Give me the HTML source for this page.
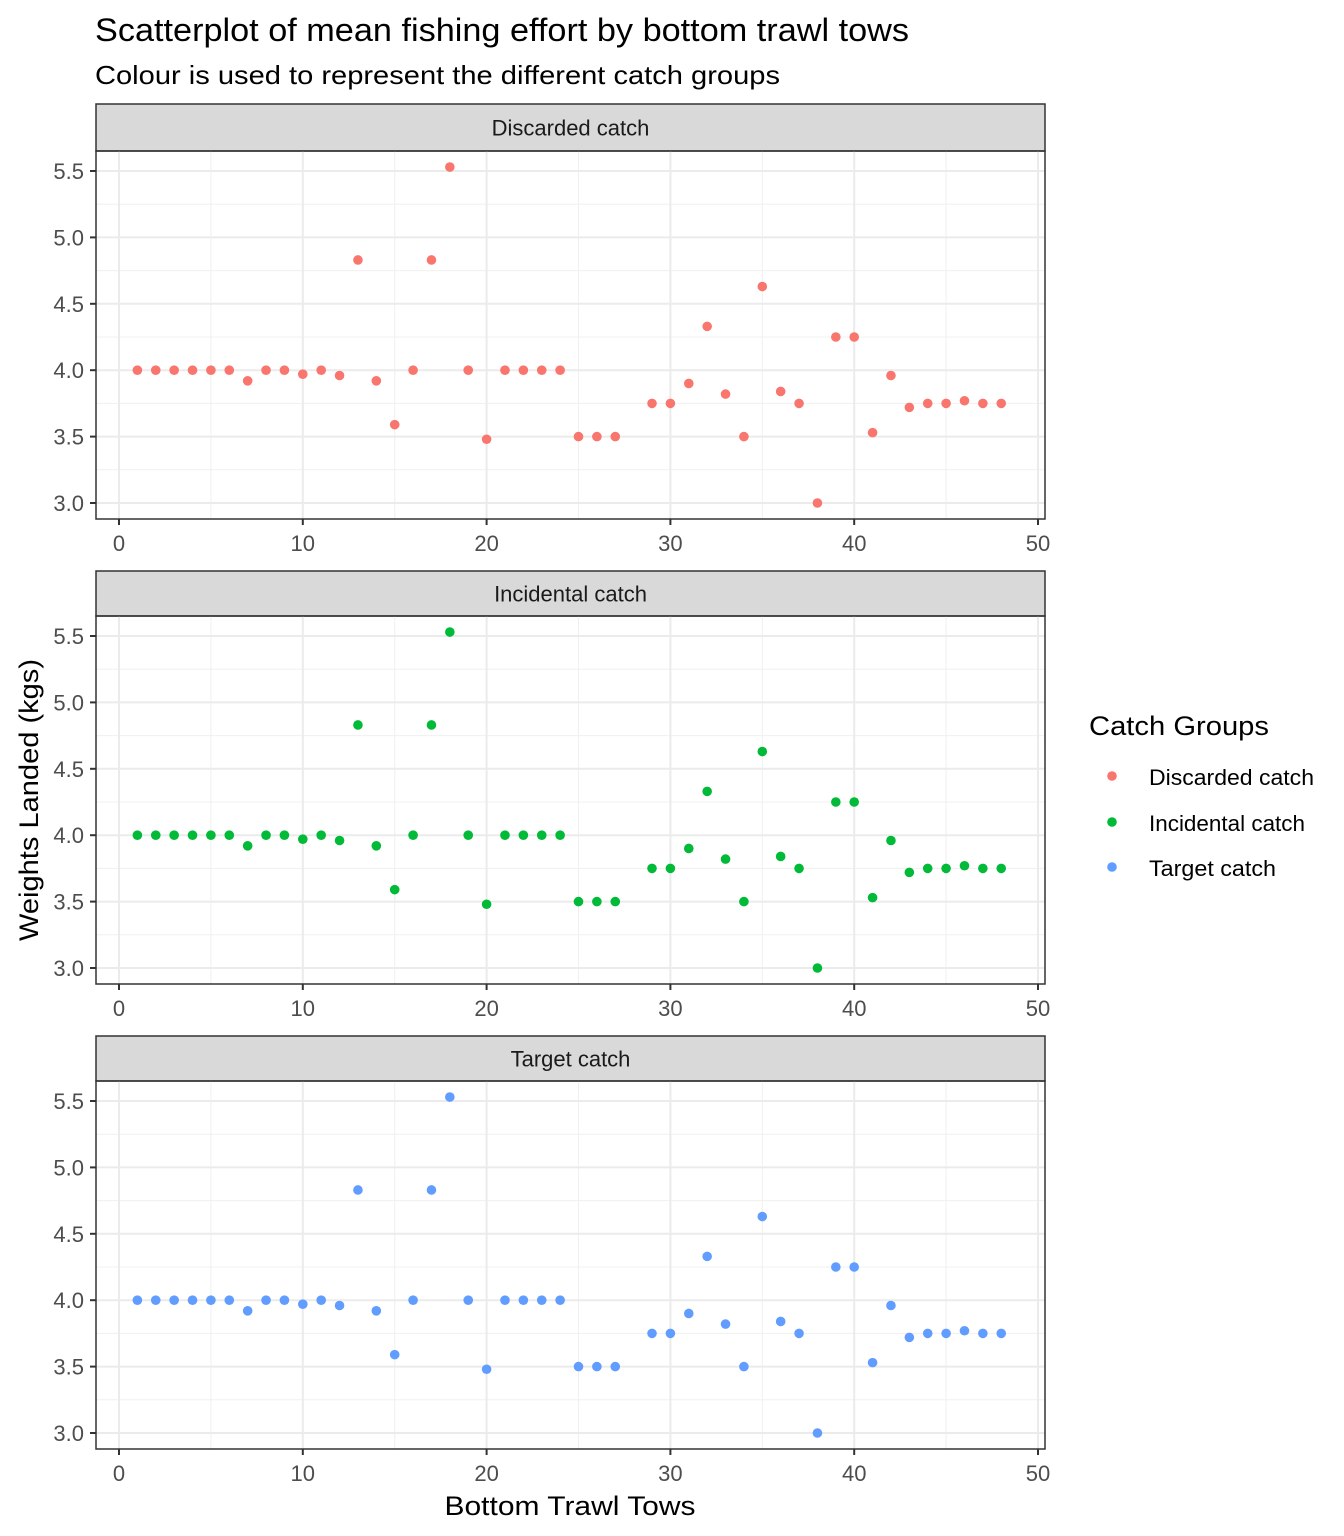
<!DOCTYPE html>
<html><head><meta charset="utf-8">
<style>
body{margin:0;background:#fff;}
svg{display:block;font-family:"Liberation Sans",Arial,sans-serif;}
</style></head>
<body>
<svg id="chart" width="1344" height="1536" viewBox="0 0 1344 1536" xmlns="http://www.w3.org/2000/svg">
<text x="95" y="41" font-size="32" fill="#000" textLength="814" lengthAdjust="spacingAndGlyphs">Scatterplot of mean fishing effort by bottom trawl tows</text>
<text x="95" y="84" font-size="26" fill="#000" textLength="685" lengthAdjust="spacingAndGlyphs">Colour is used to represent the different catch groups</text>
<text transform="translate(38,800) rotate(-90)" text-anchor="middle" font-size="27" fill="#000" textLength="282" lengthAdjust="spacingAndGlyphs">Weights Landed (kgs)</text>
<text x="570" y="1515" text-anchor="middle" font-size="27" fill="#000" textLength="251" lengthAdjust="spacingAndGlyphs">Bottom Trawl Tows</text>
<g id="panels"></g>
<g>
<text x="1089" y="735" font-size="27" fill="#000" textLength="180" lengthAdjust="spacingAndGlyphs">Catch Groups</text>
<g><circle cx="1112" cy="776" r="4.8" fill="#F8766D"/><text x="1149" y="785" font-size="22" textLength="165" lengthAdjust="spacingAndGlyphs">Discarded catch</text></g>
<g><circle cx="1112" cy="822" r="4.8" fill="#00BA38"/><text x="1149" y="831" font-size="22" textLength="156" lengthAdjust="spacingAndGlyphs">Incidental catch</text></g>
<g><circle cx="1112" cy="867" r="4.8" fill="#619CFF"/><text x="1149" y="876" font-size="22" textLength="127" lengthAdjust="spacingAndGlyphs">Target catch</text></g>
</g>
</svg>
<script>
const panelNames = ["Discarded catch","Incidental catch","Target catch"];
const panelColors = ["#F8766D","#00BA38","#619CFF"];
const tows = [1,2,3,4,5,6,7,8,9,10,11,12,13,14,15,16,17,18,19,20,21,22,23,24,25,26,27,29,30,31,32,33,34,35,36,37,38,39,40,41,42,43,44,45,46,47,48];
const weights = [4,4,4,4,4,4,3.92,4,4,3.97,4,3.96,4.83,3.92,3.59,4,4.83,5.53,4,3.48,4,4,4,4,3.5,3.5,3.5,3.75,3.75,3.9,4.33,3.82,3.5,4.63,3.84,3.75,3.0,4.25,4.25,3.53,3.96,3.72,3.75,3.75,3.77,3.75,3.75];
const xTicks = [0,10,20,30,40,50];
const yTicks = [3.0,3.5,4.0,4.5,5.0,5.5];

const NS="http://www.w3.org/2000/svg";
const root=document.getElementById('panels');
function mk(tag,attrs,parent){const e=document.createElementNS(NS,tag);for(const k in attrs)e.setAttribute(k,attrs[k]);parent.appendChild(e);return e;}
const L=96,R=1045;
const stripTops=[104,571,1036];
const plotTops=[151,616,1081];
const xs=v=>119+(v)*18.38;
panelNames.forEach((name,pi)=>{
  const st=stripTops[pi], top=plotTops[pi], bot=top+368;
  const y55=top+20, y30=top+352;
  const ys=v=>y30-(v-3.0)*(y30-y55)/2.5;
  const g=mk('g',{},root);
  
  
  const s=mk('rect',{x:L,y:st,width:R-L,height:top-st,fill:'#D9D9D9',stroke:'#333','stroke-width':1.5},g);
  
  
  const stt=mk('text',{x:(L+R)/2,y:(st+top)/2+8,'text-anchor':'middle','font-size':22,fill:'#1a1a1a'},g);
  stt.textContent=name;
  
  
  for(let v=5;v<=45;v+=10) mk('line',{x1:xs(v),x2:xs(v),y1:top,y2:bot,stroke:'#F0F0F0','stroke-width':1},g);
  for(let v=2.75;v<=5.75;v+=0.5) if(ys(v)>top&&ys(v)<bot) mk('line',{x1:L,x2:R,y1:ys(v),y2:ys(v),stroke:'#F0F0F0','stroke-width':1},g);
  xTicks.forEach(t=>{
    mk('line',{x1:xs(t),x2:xs(t),y1:top,y2:bot,stroke:'#EBEBEB','stroke-width':2},g);
    mk('line',{x1:xs(t),x2:xs(t),y1:bot,y2:bot+6,stroke:'#333','stroke-width':2},g);
    const tx=mk('text',{x:xs(t),y:bot+32,'text-anchor':'middle','font-size':22,fill:'#4D4D4D'},g);
    tx.textContent=t;
    
    
  });
  yTicks.forEach(t=>{
    mk('line',{x1:L,x2:R,y1:ys(t),y2:ys(t),stroke:'#EBEBEB','stroke-width':2},g);
    mk('line',{x1:L-6,x2:L,y1:ys(t),y2:ys(t),stroke:'#333','stroke-width':2},g);
    const ty=mk('text',{x:L-12,y:ys(t)+8,'text-anchor':'end','font-size':22,fill:'#4D4D4D'},g);
    ty.textContent=t.toFixed(1);
    
    
  });
  mk('rect',{x:L,y:top,width:R-L,height:bot-top,fill:'none',stroke:'#333','stroke-width':1.5},g);
  tows.forEach((t,i)=>{
    const c=mk('circle',{cx:xs(t),cy:ys(weights[i]),r:4.8,fill:panelColors[pi]},g);
    
    
  });
});
</script>
</body></html>
